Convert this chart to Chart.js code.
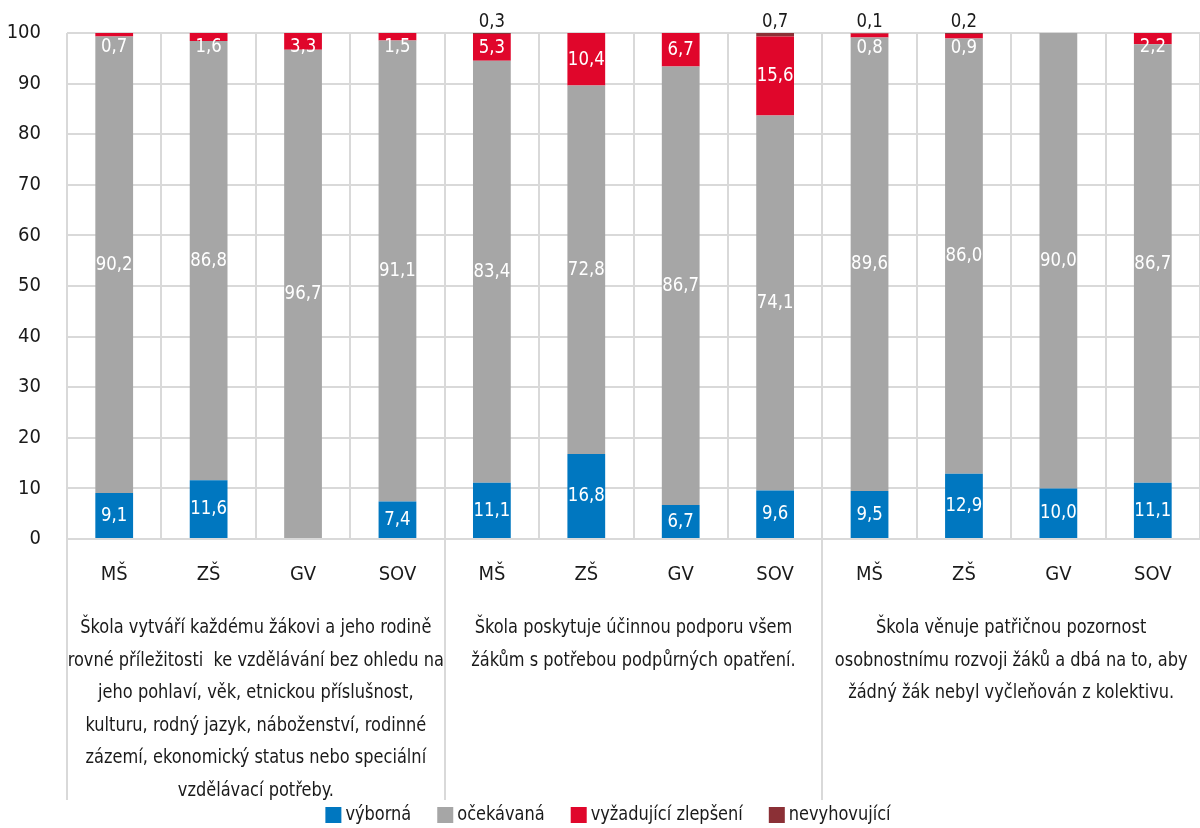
<!DOCTYPE html>
<html>
<head>
<meta charset="utf-8">
<script src="https://cdn.jsdelivr.net/npm/chart.js@4/dist/chart.umd.min.js"></script>
<style>
    html, body { margin: 0; padding: 0; background: #fff; }
    #wrap { width: 1200px; height: 828px; }
</style>
</head>
<body>
<div id="wrap"><canvas id="chart" width="1200" height="828"></canvas></div>
<script>
// Kategorie a skupiny
const categories = ['MŠ', 'ZŠ', 'GV', 'SOV', 'MŠ', 'ZŠ', 'GV', 'SOV', 'MŠ', 'ZŠ', 'GV', 'SOV'];
const group_lines = [
    ['Škola vytváří každému žákovi a jeho rodině',
     'rovné příležitosti  ke vzdělávání bez ohledu na',
     'jeho pohlaví, věk, etnickou příslušnost,',
     'kulturu, rodný jazyk, náboženství, rodinné',
     'zázemí, ekonomický status nebo speciální',
     'vzdělávací potřeby.'],
    ['Škola poskytuje účinnou podporu všem',
     'žákům s potřebou podpůrných opatření.'],
    ['Škola věnuje patřičnou pozornost',
     'osobnostnímu rozvoji žáků a dbá na to, aby',
     'žádný žák nebyl vyčleňován z kolektivu.']
];

// Hodnoty (%)
const vyborna      = [9.1, 11.6, 0,    7.4,  11.1, 16.8, 6.7,  9.6,  9.5,  12.9, 10.0, 11.1];
const ocekavana    = [90.2, 86.8, 96.7, 91.1, 83.4, 72.8, 86.7, 74.1, 89.6, 86.0, 90.0, 86.7];
const vyzadujici   = [0.7, 1.6,  3.3,  1.5,  5.3,  10.4, 6.7,  15.6, 0.8,  0.9,  0,    2.2];
const nevyhovujici = [0,   0,    0,    0,    0.3,  0,    0,    0.7,  0.1,  0.2,  0,    0];

const y_ticks = [0, 10, 20, 30, 40, 50, 60, 70, 80, 90, 100];

const FONT = '"DejaVu Sans Condensed", "Liberation Sans Narrow", sans-serif';
const GRID = '#d9d9d9';
const TEXT = '#1a1a1a';
const SX = 0.9;   // kondenzace písma

const fmt = v => v.toFixed(1).replace('.', ',');

// užší text (reference má kondenzované písmo)
function narrowText(ctx, text, x, y, sx) {
    ctx.save();
    ctx.translate(x, y);
    ctx.scale(sx, 1);
    ctx.fillText(text, 0, 0);
    ctx.restore();
}

// Popisky hodnot
const labelsPlugin = {
    id: 'valueLabels',
    afterDatasetsDraw(chart) {
        const ctx = chart.ctx;
        ctx.save();
        ctx.font = '20px ' + FONT;
        ctx.textAlign = 'center';
        chart.data.datasets.forEach((ds, i) => {
            const meta = chart.getDatasetMeta(i);
            meta.data.forEach((bar, j) => {
                const v = ds.data[j];
                if (!v) return;
                const p = bar.getProps(['x', 'y', 'base'], true);
                const center = (p.y + p.base) / 2;
                if (i === 3) {
                    ctx.fillStyle = TEXT;
                    ctx.textBaseline = 'bottom';
                    narrowText(ctx, fmt(v), p.x, p.y - 1, 0.92);
                } else {
                    ctx.fillStyle = '#ffffff';
                    ctx.textBaseline = 'middle';
                    const ty = i === 2 ? Math.max(center, p.y + 14) : center;
                    narrowText(ctx, fmt(v), p.x, ty, 0.92);
                }
            });
        });
        ctx.restore();
    }
};

// Oddělovače skupin, texty pod osou a legenda
const groupsPlugin = {
    id: 'groups',
    afterDraw(chart) {
        const ctx = chart.ctx;
        const xs = chart.scales.x;
        const area = chart.chartArea;
        const bottom = 800;
        const seps = [area.left,
            (xs.getPixelForValue(3) + xs.getPixelForValue(4)) / 2,
            (xs.getPixelForValue(7) + xs.getPixelForValue(8)) / 2,
            area.right];
        ctx.save();
        ctx.strokeStyle = GRID;
        ctx.lineWidth = 2;
        [seps[0], seps[1], seps[2]].forEach(x => {
            ctx.beginPath();
            ctx.moveTo(Math.round(x), area.bottom);
            ctx.lineTo(Math.round(x), bottom);
            ctx.stroke();
        });
        ctx.fillStyle = TEXT;
        ctx.font = '20px ' + FONT;
        ctx.textAlign = 'center';
        ctx.textBaseline = 'middle';
        group_lines.forEach((lines, g) => {
            const cx = (seps[g] + seps[g + 1]) / 2;
            lines.forEach((line, k) => {
                narrowText(ctx, line, cx, 628 + k * 32.5, SX);
            });
        });

        // legenda
        const box = 16, gap = 4, spacing = 26, ly = 815;
        const items = chart.data.datasets.map(ds => ({
            text: ds.label, color: ds.backgroundColor,
            w: ctx.measureText(ds.label).width * SX
        }));
        const total = items.reduce((s, it) => s + box + gap + it.w, 0) + spacing * (items.length - 1);
        let x = 608 - total / 2;
        ctx.textAlign = 'left';
        items.forEach(it => {
            ctx.fillStyle = it.color;
            ctx.fillRect(x, ly - box / 2, box, box);
            ctx.fillStyle = TEXT;
            narrowText(ctx, it.text, x + box + gap, ly, SX);
            x += box + gap + it.w + spacing;
        });
        ctx.restore();
    }
};

const data = {
    labels: categories,
    datasets: [
        { label: 'výborná', data: vyborna, backgroundColor: '#0077c0' },
        { label: 'očekávaná', data: ocekavana, backgroundColor: '#a6a6a6' },
        { label: 'vyžadující zlepšení', data: vyzadujici, backgroundColor: '#e0062b' },
        { label: 'nevyhovující', data: nevyhovujici, backgroundColor: '#8b3036' }
    ]
};

const options = {
    responsive: false,
    animation: false,
    layout: { padding: { top: 33, right: 0, left: 0, bottom: 28 } },
    datasets: {
        bar: { categoryPercentage: 1, barPercentage: 0.4, borderWidth: 0 }
    },
    plugins: {
        legend: { display: false },
        tooltip: { enabled: false }
    },
    scales: {
        x: {
            stacked: true,
            grid: { color: GRID, lineWidth: 2, drawTicks: false },
            border: { color: GRID, width: 2 },
            ticks: { font: { size: 20, family: FONT }, color: TEXT, padding: 24 },
            afterFit: s => { s.height = 261; s.paddingLeft = 0; s.paddingRight = 0; }
        },
        y: {
            stacked: true,
            min: 0,
            max: 100,
            afterBuildTicks: s => { s.ticks = y_ticks.map(v => ({ value: v })); },
            grid: { color: GRID, lineWidth: 2, drawTicks: false },
            border: { display: false },
            ticks: { font: { size: 20, family: FONT }, color: TEXT, padding: 26 },
            afterFit: s => { s.width = 67; s.paddingTop = 0; s.paddingBottom = 0; }
        }
    }
};

new Chart(document.getElementById('chart').getContext('2d'), {
    type: 'bar',
    data: data,
    options: options,
    plugins: [labelsPlugin, groupsPlugin]
});
</script>
</body>
</html>
